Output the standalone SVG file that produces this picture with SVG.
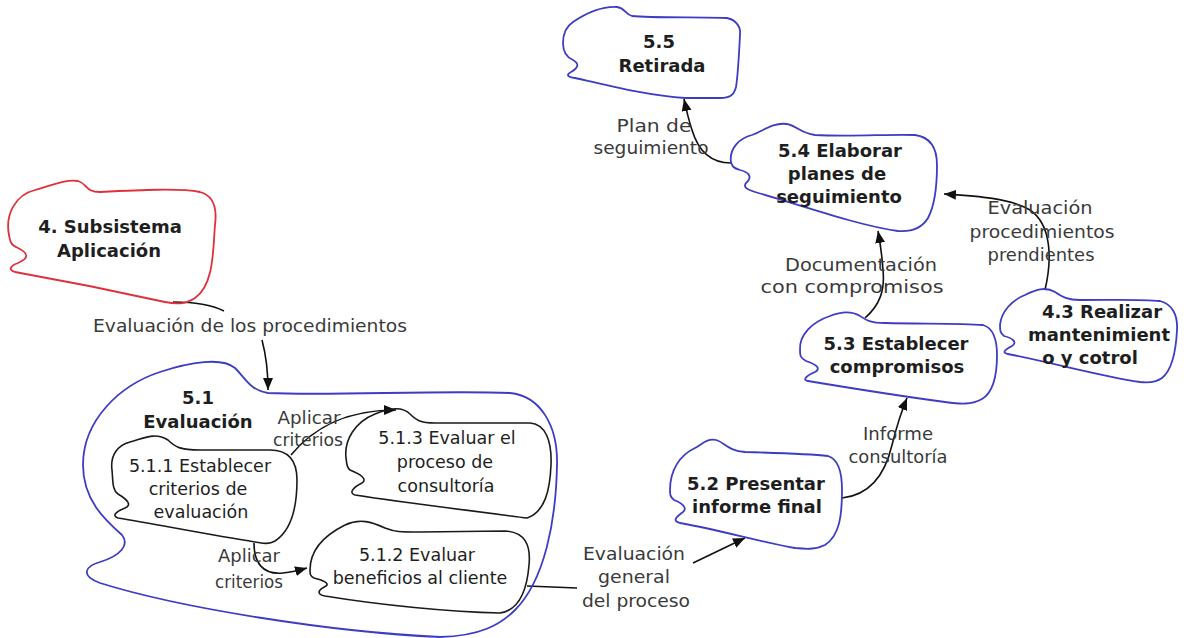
<svg xmlns="http://www.w3.org/2000/svg" width="1186" height="638" viewBox="0 0 1186 638">
  <defs>
    <style>
      .blob-blue { fill: none; stroke: #3c3cc4; stroke-width: 1.8; }
      .blob-red { fill: none; stroke: #e0303c; stroke-width: 1.8; }
      .blob-black { fill: none; stroke: #1a1a1a; stroke-width: 1.6; }
      .title { font-family: "DejaVu Sans", Verdana, sans-serif; font-weight: bold; font-size: 18px; fill: #1e1e1e; text-anchor: middle; }
      .sub { font-family: "DejaVu Sans", Verdana, sans-serif; font-size: 17.5px; fill: #1e1e1e; text-anchor: middle; }
      .lbl { font-family: "DejaVu Sans", Verdana, sans-serif; font-size: 17px; fill: #3a3a3a; text-anchor: middle; }
      .edge { fill: none; stroke: #111; stroke-width: 1.6; }
    </style>
    <marker id="arrow" markerUnits="userSpaceOnUse" markerWidth="14" markerHeight="12" refX="12" refY="5" orient="auto">
      <path d="M0,0 L12,5 L0,10 z" fill="#111"/>
    </marker>
  </defs>

  <rect x="0" y="0" width="1186" height="638" fill="#ffffff"/>

  <!-- connectors and their labels -->
  <g id="connectors">
    <path class="edge" d="M173,302 C195,302 212,305 224,311 M262,340 C266,355 268,372 268,390" marker-end="url(#arrow)"/>
    <path class="edge" d="M291,455 C310,432 340,410 396,410" marker-end="url(#arrow)"/>
    <path class="edge" d="M254,543 C254,562 262,575 283,573 C292,572 300,570 307,568" marker-end="url(#arrow)"/>
    <path class="edge" d="M527,586 L577,588 M693,563 C710,555 728,546 745,538" marker-end="url(#arrow)"/>
    <path class="edge" d="M842,498 C870,495 885,475 892,445 C897,425 902,410 907,398" marker-end="url(#arrow)"/>
    <path class="edge" d="M865,318 C880,305 885,290 883,270 C882,255 880,242 878,231" marker-end="url(#arrow)"/>
    <path class="edge" d="M1045,290 C1052,260 1052,225 1030,210 C1010,198 975,196 944,194" marker-end="url(#arrow)"/>
    <path class="edge" d="M731,163 C710,163 698,150 692,130 C688,118 686,108 684,99" marker-end="url(#arrow)"/>

    <g id="edge-labels">
      <text class="lbl" x="250" y="332" textLength="314" lengthAdjust="spacingAndGlyphs">Evaluación de los procedimientos</text>
      <text class="lbl" x="309" y="424" textLength="63" lengthAdjust="spacingAndGlyphs">Aplicar</text>
      <text class="lbl" x="308" y="446" textLength="70" lengthAdjust="spacingAndGlyphs">criterios</text>
      <text class="lbl" x="249" y="562" textLength="62" lengthAdjust="spacingAndGlyphs">Aplicar</text>
      <text class="lbl" x="249" y="588" textLength="68" lengthAdjust="spacingAndGlyphs">criterios</text>
      <text class="lbl" x="634" y="560" textLength="102" lengthAdjust="spacingAndGlyphs">Evaluación</text>
      <text class="lbl" x="634" y="583" textLength="72" lengthAdjust="spacingAndGlyphs">general</text>
      <text class="lbl" x="636" y="607" textLength="108" lengthAdjust="spacingAndGlyphs">del proceso</text>
      <text class="lbl" x="898" y="440" textLength="70" lengthAdjust="spacingAndGlyphs">Informe</text>
      <text class="lbl" x="898" y="463" textLength="99" lengthAdjust="spacingAndGlyphs">consultoría</text>
      <text class="lbl" x="861" y="271" textLength="152" lengthAdjust="spacingAndGlyphs">Documentación</text>
      <text class="lbl" x="852" y="293" textLength="183" lengthAdjust="spacingAndGlyphs">con compromisos</text>
      <text class="lbl" x="1040" y="214" textLength="105" lengthAdjust="spacingAndGlyphs">Evaluación</text>
      <text class="lbl" x="1042" y="238" textLength="145" lengthAdjust="spacingAndGlyphs">procedimientos</text>
      <text class="lbl" x="1041" y="261" textLength="107" lengthAdjust="spacingAndGlyphs">prendientes</text>
      <text class="lbl" x="654" y="132" textLength="75" lengthAdjust="spacingAndGlyphs">Plan de</text>
      <text class="lbl" x="651" y="154" textLength="115" lengthAdjust="spacingAndGlyphs">seguimiento</text>
    </g>
  </g>

  <!-- 4. Subsistema Aplicación -->
  <g id="node-4">
    <path class="blob-red" d="M9,235 C5,215 15,195 35,190 C50,186 65,179 78,181 C88,184 85,192 100,192 C140,190 180,188 200,192 C215,196 217,210 215,225 C213,250 214,285 195,298 C185,305 175,304 165,302 C120,292 60,280 15,272 C8,270 10,266 18,263 C30,258 28,253 18,248 C10,245 10,240 9,235 Z"/>
    <text class="title" x="110" y="233">4. Subsistema</text>
    <text class="title" x="109" y="257">Aplicación</text>
  </g>

  <!-- 5.1 Evaluación (container) -->
  <g id="node-5-1">
    <path class="blob-blue" d="M83,465 C83,420 120,385 160,372 C190,362 222,357 235,368 C247,380 250,390 268,393 C330,396 440,390 510,393 C540,396 558,425 557,465 C556,520 545,580 515,610 C500,625 480,636 440,637 C330,632 180,608 100,583 C80,576 85,566 100,562 C120,556 130,545 122,535 C105,520 83,500 83,465 Z"/>
    <text class="title" x="198" y="404">5.1</text>
    <text class="title" x="198" y="428">Evaluación</text>
  </g>

  <!-- 5.1.1 Establecer criterios de evaluación -->
  <g id="node-5-1-1">
    <path class="blob-black" d="M112,470 C110,455 118,445 130,442 C145,438 155,432 168,440 C175,447 180,450 200,450 L270,450 C290,450 297,462 297,480 C297,505 292,530 275,541 C268,545 262,543 255,542 C210,535 160,525 118,518 C112,516 115,512 125,508 C132,505 128,500 118,494 C112,490 113,480 112,470 Z"/>
    <text class="sub" x="200" y="472">5.1.1 Establecer</text>
    <text class="sub" x="198" y="495">criterios de</text>
    <text class="sub" x="201" y="518">evaluación</text>
  </g>

  <!-- 5.1.3 Evaluar el proceso de consultoría -->
  <g id="node-5-1-3">
    <path class="blob-black" d="M346,458 C344,440 355,422 375,414 C390,408 402,406 410,414 C416,420 420,423 435,423 L530,423 C545,424 552,440 551,465 C550,490 545,512 527,518 C480,512 400,502 355,495 C349,493 352,488 362,483 C368,479 360,474 350,470 C346,467 347,463 346,458 Z"/>
    <text class="sub" x="447" y="444">5.1.3 Evaluar el</text>
    <text class="sub" x="445" y="468">proceso de</text>
    <text class="sub" x="446" y="492">consultoría</text>
  </g>

  <!-- 5.1.2 Evaluar beneficios al cliente -->
  <g id="node-5-1-2">
    <path class="blob-black" d="M310,570 C310,550 325,535 345,525 C360,518 372,522 385,528 C395,532 400,532 420,532 L505,531 C525,532 531,545 529,565 C527,590 520,610 500,613 C450,612 380,605 325,596 C316,594 318,590 326,586 C330,583 322,580 314,578 C310,576 310,574 310,570 Z"/>
    <text class="sub" x="417" y="561">5.1.2 Evaluar</text>
    <text class="sub" x="420" y="584">beneficios al cliente</text>
  </g>

  <!-- 5.2 Presentar informe final -->
  <g id="node-5-2">
    <path class="blob-blue" d="M670,490 C670,470 680,455 695,448 C702,444 708,438 716,440 C724,442 728,451 745,452 C780,453 810,454 828,456 C838,459 842,470 842,490 C842,515 840,535 825,545 C815,550 805,549 795,548 C760,542 720,530 680,523 C672,521 676,517 683,512 C688,508 682,503 674,500 C670,497 670,494 670,490 Z"/>
    <text class="title" x="756" y="490">5.2 Presentar</text>
    <text class="title" x="757" y="513">informe final</text>
  </g>

  <!-- 5.3 Establecer compromisos -->
  <g id="node-5-3">
    <path class="blob-blue" d="M800,350 C799,335 812,322 830,316 C840,312 850,310 860,316 C866,320 870,323 885,323 C920,324 960,323 983,325 C993,328 997,340 997,355 C997,375 994,392 982,399 C972,405 960,404 945,402 C900,396 850,388 808,381 C802,380 806,376 815,372 C822,368 815,364 806,361 C800,358 800,355 800,350 Z"/>
    <text class="title" x="896" y="350">5.3 Establecer</text>
    <text class="title" x="897" y="373">compromisos</text>
  </g>

  <!-- 4.3 Realizar mantenimiento y control -->
  <g id="node-4-3">
    <path class="blob-blue" d="M1000,325 C1001,312 1012,300 1025,295 C1035,290 1045,286 1055,292 C1062,297 1068,300 1080,300 C1110,300 1140,299 1160,301 C1172,304 1178,315 1177,330 C1176,350 1172,370 1162,378 C1155,383 1148,383 1140,382 C1100,376 1050,362 1008,354 C1002,353 1004,350 1012,346 C1018,342 1012,338 1004,336 C1000,333 1000,330 1000,325 Z"/>
    <text class="title" x="1102" y="318">4.3 Realizar</text>
    <text class="title" x="1099" y="341">mantenimient</text>
    <text class="title" x="1090" y="364">o y cotrol</text>
  </g>

  <!-- 5.4 Elaborar planes de seguimiento -->
  <g id="node-5-4">
    <path class="blob-blue" d="M731,162 C729,148 740,138 752,135 C762,132 772,122 787,124 C797,126 800,133 815,135 C850,137 890,134 915,135 C930,137 937,148 937,165 C937,185 935,205 928,218 C922,228 912,232 898,231 C860,226 800,205 755,192 C745,189 742,186 748,181 C752,176 748,172 740,170 C733,168 732,166 731,162 Z"/>
    <text class="title" x="840" y="157">5.4 Elaborar</text>
    <text class="title" x="837" y="180">planes de</text>
    <text class="title" x="839" y="203">seguimiento</text>
  </g>

  <!-- 5.5 Retirada -->
  <g id="node-5-5">
    <path class="blob-blue" d="M563,43 C563,33 567,26 573,22 C585,14 600,6 617,7 C625,8 625,14 632,16 C650,18 700,17 727,18 C737,20 741,28 740,35 C739,55 738,75 736,87 C734,95 730,98 720,98 L685,98 C650,96 610,86 575,78 C567,77 566,75 571,72 C578,68 580,64 573,60 C566,57 563,52 563,43 Z"/>
    <text class="title" x="659" y="48">5.5</text>
    <text class="title" x="662" y="72">Retirada</text>
  </g>
</svg>
